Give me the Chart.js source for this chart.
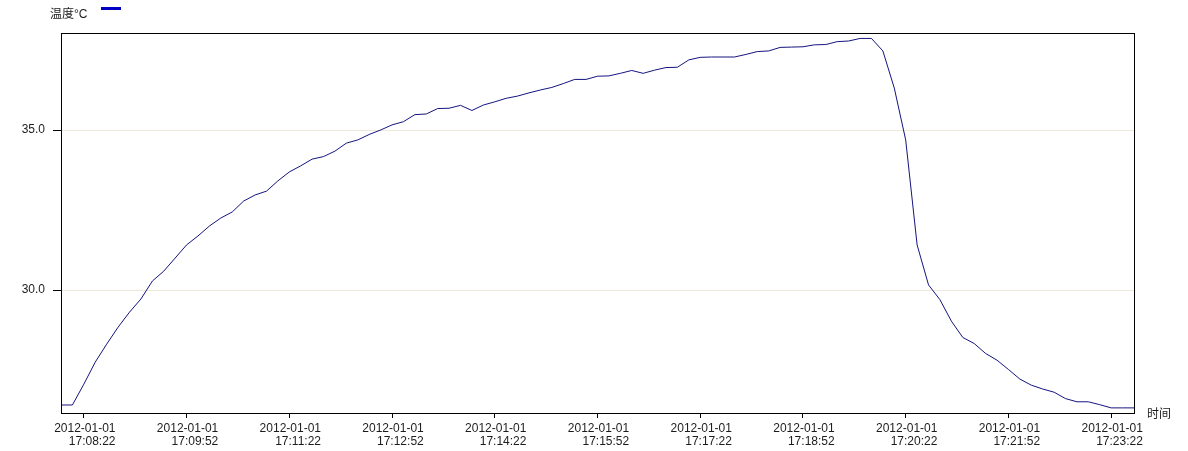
<!DOCTYPE html>
<html>
<head>
<meta charset="utf-8">
<title>温度</title>
<script src="https://cdn.jsdelivr.net/npm/chart.js@4.4.1/dist/chart.umd.min.js"></script>
<style>
    html, body { margin: 0; padding: 0; background: #fff; }
    #wrap { width: 1188px; height: 451px; }
</style>
</head>
<body>
<div id="wrap"><canvas id="chart" width="1188" height="451"></canvas></div>
<script>
// Data: one sample every 10 s from 17:08:02
const DATE = '2012-01-01';
const START_TIME = '17:08:02';
const STEP_SEC = 10;
const temps = [
    26.41, 26.41, 27.06, 27.75, 28.31, 28.84, 29.31, 29.72, 30.28, 30.59,
    31.00, 31.41, 31.69, 32.00, 32.25, 32.44, 32.78, 32.97, 33.09, 33.41,
    33.69, 33.88, 34.09, 34.17, 34.34, 34.59, 34.69, 34.86, 35.00, 35.16,
    35.26, 35.48, 35.50, 35.67, 35.68, 35.77, 35.61, 35.78, 35.88, 35.99,
    36.06, 36.16, 36.25, 36.33, 36.45, 36.58, 36.58, 36.68, 36.69, 36.77,
    36.86, 36.77, 36.87, 36.95, 36.96, 37.19, 37.27, 37.28, 37.28, 37.28,
    37.36, 37.45, 37.47, 37.58, 37.59, 37.60, 37.66, 37.67, 37.76, 37.78,
    37.86, 37.86, 37.47, 36.31, 34.69, 31.41, 30.16, 29.70, 29.03, 28.52,
    28.33, 28.02, 27.81, 27.52, 27.22, 27.03, 26.91, 26.81, 26.61, 26.51,
    26.51, 26.42, 26.32, 26.32, 26.32
];
const xTickTimes = ['17:08:22', '17:09:52', '17:11:22', '17:12:52', '17:14:22', '17:15:52',
                    '17:17:22', '17:18:52', '17:20:22', '17:21:52', '17:23:22'];
const yTicks = [30, 35];
const Y_MIN = 26.16;
const Y_MAX = 38.03;
const SERIES_LABEL = '温度°C';
const X_TITLE = '时间';

const LINE_COLOR = '#14147f';
const LEGEND_COLOR = '#0000c4';
const TEXT_COLOR = '#1c1c1c';
const FONT = '"Liberation Sans", Arial, "Noto Sans CJK SC", sans-serif';

// time labels for each sample
function buildTimes(start, step, n) {
    const p = start.split(':').map(Number);
    const base = p[0] * 3600 + p[1] * 60 + p[2];
    const out = [];
    for (let i = 0; i < n; i++) {
        const t = base + i * step;
        const hh = String(Math.floor(t / 3600)).padStart(2, '0');
        const mm = String(Math.floor(t / 60) % 60).padStart(2, '0');
        const ss = String(t % 60).padStart(2, '0');
        out.push(`${hh}:${mm}:${ss}`);
    }
    return out;
}
const times = buildTimes(START_TIME, STEP_SEC, temps.length);

// frame, legend, two-line x labels, axis title
const decorPlugin = {
    id: 'decor',
    afterDraw(chart) {
        const ctx = chart.ctx;
        const area = chart.chartArea;
        const xScale = chart.scales.x;
        ctx.save();

        ctx.strokeStyle = '#000';
        ctx.lineWidth = 1;
        ctx.strokeRect(Math.round(area.left) + 0.5, Math.round(area.top) + 0.5,
                       Math.round(area.right - area.left), Math.round(area.bottom - area.top));

        ctx.font = `12px ${FONT}`;
        ctx.fillStyle = TEXT_COLOR;
        ctx.textBaseline = 'middle';
        ctx.textAlign = 'left';
        ctx.fillText(SERIES_LABEL, 50, 15);
        ctx.fillStyle = LEGEND_COLOR;
        ctx.fillRect(101, 7, 20, 3);

        ctx.fillStyle = TEXT_COLOR;
        ctx.fillText(X_TITLE, 1147, 415);

        ctx.textBaseline = 'alphabetic';
        ctx.textAlign = 'right';
        const w = ctx.measureText(DATE).width;
        xScale.ticks.forEach(tick => {
            const x = xScale.getPixelForValue(tick.value);
            const right = x + w / 2 + 1;
            ctx.fillText(DATE, right, 432);
            ctx.fillText(times[tick.value], right, 445);
        });
        ctx.restore();
    }
};

const ctx = document.getElementById('chart').getContext('2d');
new Chart(ctx, {
    type: 'line',
    data: {
        labels: times,
        datasets: [{
            label: SERIES_LABEL,
            data: temps,
            borderColor: LINE_COLOR,
            borderWidth: 1,
            pointRadius: 0,
            tension: 0,
            fill: false
        }]
    },
    options: {
        responsive: false,
        animation: false,
        devicePixelRatio: 1,
        layout: { padding: { top: 33, right: 54, left: 0, bottom: 0 } },
        plugins: {
            legend: { display: false },
            tooltip: { enabled: false }
        },
        scales: {
            x: {
                type: 'category',
                offset: false,
                afterBuildTicks: scale => {
                    scale.ticks = xTickTimes.map(t => ({ value: times.indexOf(t) }));
                },
                afterFit: scale => { scale.height = 38; },
                ticks: { display: false, autoSkip: false },
                grid: {
                    drawOnChartArea: false,
                    drawTicks: true,
                    tickLength: 5,
                    tickColor: '#000',
                    offset: false
                },
                border: { display: true, color: '#000', width: 1 }
            },
            y: {
                min: Y_MIN,
                max: Y_MAX,
                afterBuildTicks: scale => {
                    scale.ticks = yTicks.map(v => ({ value: v }));
                },
                afterFit: scale => { scale.width = 61; },
                ticks: {
                    padding: 8,
                    color: TEXT_COLOR,
                    font: { family: FONT, size: 12 },
                    callback: v => Number(v).toFixed(1)
                },
                grid: {
                    color: '#efe9db',
                    lineWidth: 1,
                    tickLength: 8,
                    tickColor: '#000'
                },
                border: { display: true, color: '#000', width: 1 }
            }
        }
    },
    plugins: [decorPlugin]
});
</script>
</body>
</html>
